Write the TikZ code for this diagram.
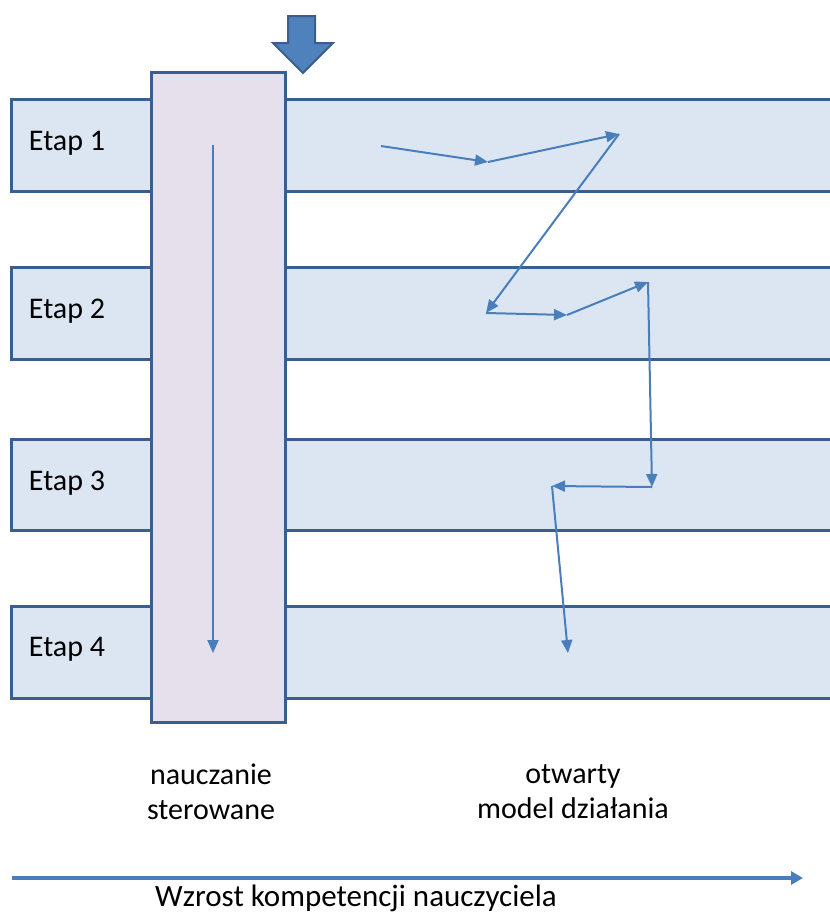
\documentclass[tikz,border=0pt]{standalone}
\usepackage{fontspec}
\setmainfont{Carlito}
\usetikzlibrary{arrows.meta}
\definecolor{bandfill}{HTML}{DCE6F2}
\definecolor{bandline}{HTML}{3A5F8E}
\definecolor{colfill}{HTML}{E6E0EC}
\definecolor{flow}{HTML}{4A7EBB}
\definecolor{bigarrow}{HTML}{4F81BD}
\tikzset{
  band/.style={fill=bandfill, draw=bandline, line width=3pt},
  column/.style={fill=colfill, draw=bandline, line width=3pt},
  flowarrow/.style={draw=flow, line width=2pt, -{Triangle[length=13pt,width=11pt]}},
  lbl/.style={font=\fontsize{30}{35}\selectfont, text=black, inner sep=0pt},
}
\begin{document}
\begin{tikzpicture}[x=1pt,y=-1pt]
\useasboundingbox (0,0) rectangle (830,914);
% horizontal stages, open on the right
\foreach \t/\b in {99/191, 267/359, 439/530, 606/698}{
  \fill[bandfill] (11,\t) rectangle (840,\b);
  \draw[bandline, line width=3pt] (840,\t) -| (11,\b) -- (840,\b);
}
% directed teaching column
\draw[column] (151,72) rectangle (285,722);
% entry block arrow
\draw[fill=bigarrow, draw=bandline, line width=2pt, line join=miter]
  (288,16) -- (315,16) -- (315,43) -- (333,43) -- (303,73) -- (273,43) -- (288,43) -- cycle;
% stage labels
\node[lbl] (e1) at (67,143) {Etap 1};
\node[lbl] (e2) at (67,311) {Etap 2};
\node[lbl] (e3) at (67,483) {Etap 3};
\node[lbl] (e4) at (67,649) {Etap 4};
% straight path through the column
\coordinate (s0) at (213,145);
\coordinate (s1) at (213,653);
\draw[flowarrow] (s0) -- (s1);
% winding path of the open model
\coordinate (p0) at (381,146);
\coordinate (p1) at (488,162);
\coordinate (p2) at (619,134);
\coordinate (p3) at (486,313);
\coordinate (p4) at (567,315);
\coordinate (p5) at (648,282);
\coordinate (p6) at (652,487);
\coordinate (p7) at (552,486);
\coordinate (p8) at (568,653);
\draw[flowarrow] (p0) -- (p1);
\draw[flowarrow] (p1) -- (p2);
\draw[flowarrow] (p2) -- (p3);
\draw[flowarrow] (p3) -- (p4);
\draw[flowarrow] (p4) -- (p5);
\draw[flowarrow] (p5) -- (p6);
\draw[flowarrow] (p6) -- (p7);
\draw[flowarrow] (p7) -- (p8);
% column captions
\node[lbl, align=center] (c1) at (211,792) {nauczanie\\sterowane};
\node[lbl, align=center] (c2) at (573,792) {otwarty\\model działania};
% growth axis
\coordinate (g0) at (12,878);
\coordinate (g1) at (803,878);
\draw[draw=flow, line width=4pt, -{Triangle[length=12pt,width=13pt]}] (g0) -- (g1);
\node[lbl, font=\fontsize{31}{36}\selectfont] (gl) at (356,898.5) {Wzrost kompetencji nauczyciela};
\end{tikzpicture}
\end{document}
